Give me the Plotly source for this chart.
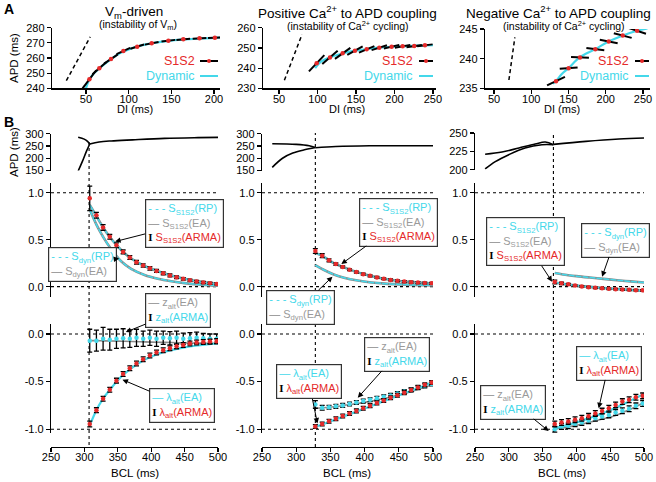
import plotly.graph_objects as go

W, H = 656, 482
CY = '#44d8ea'
RD = '#e52a2a'
GT = '#9a9a9a'
GL = '#8a8a8a'
FONT = 'Liberation Sans, Arial, Helvetica, sans-serif'

# ---------------- Panel A data (DI vs APD) ----------------
a1_dyn_di = [50, 52, 54, 58, 62, 66, 72, 80, 90, 100, 115, 130, 150, 170, 190, 210]
a1_dyn_apd = [240, 243.2, 245.9, 249, 251.3, 253.4, 256.2, 259.5, 263.2, 265.7, 268.3, 270, 271.5, 272.4, 273, 273.5]
a1_s1s2_di = [54, 65.6, 79.3, 93.8, 110, 127, 146.5, 164, 183, 201]
a1_s1s2_apd = [245.9, 253.2, 259.3, 264.6, 267.5, 269.7, 271.4, 272.3, 273, 273.4]
a1_s1s2_slope = [0.75, 0.5, 0.38, 0.26, 0.17, 0.11, 0.07, 0.045, 0.03, 0.02]
a1_diag_di = [27, 55]
a1_diag_apd = [245, 274]

a2_dyn_di = [97, 105, 116, 130, 145, 160, 180, 200, 225, 250]
a2_dyn_apd = [240, 243.3, 245.3, 247, 248.4, 249.2, 250.1, 250.6, 251, 251.4]
a2_s1s2_di = [98.9, 116.2, 132.7, 148.7, 163.9, 180.3, 196.3, 210.6, 225.7, 239.6]
a2_s1s2_apd = [242.4, 245.3, 247.3, 248.6, 249.3, 250.1, 250.6, 250.8, 250.9, 251.3]
a2_s1s2_slope = [0.4, 0.33, 0.27, 0.21, 0.16, 0.12, 0.09, 0.07, 0.055, 0.045]
a2_diag_di = [57, 80]
a2_diag_apd = [234, 256.7]

a3_dyn_di = [129, 133, 141, 150, 165, 186, 204, 223, 242, 256]
a3_dyn_apd = [235.8, 236.2, 237.4, 238.4, 240.2, 241.6, 242.9, 243.9, 244.7, 245.1]
a3_s1s2_di = [133.2, 150.2, 165.4, 186, 204, 222.8, 242]
a3_s1s2_apd = [236.2, 238.4, 240.2, 241.6, 242.9, 243.9, 244.7]
a3_s1s2_slope = [0.06, 0.01, -0.005, -0.015, -0.025, -0.033, -0.042]
a3_diag_di = [70, 78]
a3_diag_apd = [236.4, 243.6]

# ---------------- Panel B data (BCL) ----------------
b1_hi_bcl = [290.7, 299.7, 304.7, 308]
b1_hi_apd = [285.6, 278, 269, 258]
b1_lo_bcl = [290.7, 297, 303, 308]
b1_lo_apd = [148, 187, 228, 258]
b1_bcl = [308, 322, 340, 372, 420, 470, 500]
b1_apd = [258, 266, 270.5, 275, 281, 284, 285]

b2_hi_bcl = [265, 300, 319, 328]
b2_hi_apd = [259, 256.5, 251, 244]
b2_lo_bcl = [265, 280, 295, 312, 328]
b2_lo_apd = [163, 200, 221, 234.5, 244]
b2_bcl = [328, 358, 407, 450, 500]
b2_apd = [243, 248, 251, 251, 251]

b3_hi_bcl = [265, 290, 315, 339, 354, 366]
b3_hi_apd = [221, 224, 229.6, 235, 237.7, 234]
b3_lo_bcl = [265, 280, 300, 324, 349, 366]
b3_lo_apd = [201, 211, 220.5, 229.6, 234, 234]
b3_bcl = [366, 414, 463, 500]
b3_apd = [234.5, 238.6, 241.8, 243.2]

c1_bcl = [308, 318, 328, 338, 348, 358, 368, 378, 388, 398, 408, 418, 428, 438, 448, 458, 468, 478, 488, 498]
c1_s_arma = [0.94, 0.76, 0.63, 0.53, 0.44, 0.37, 0.31, 0.26, 0.225, 0.195, 0.167, 0.142, 0.12, 0.10, 0.083, 0.068, 0.055, 0.045, 0.036, 0.029]
c1_s_err = [0.13, 0.03, 0.03, 0.025, 0.025, 0.02, 0.02, 0.02, 0.018, 0.018, 0.016, 0.015, 0.015, 0.014, 0.013, 0.012, 0.012, 0.012, 0.011, 0.011]
c1_lam_arma = [-0.945, -0.80, -0.68, -0.585, -0.49, -0.42, -0.36, -0.31, -0.265, -0.225, -0.195, -0.17, -0.15, -0.13, -0.115, -0.10, -0.09, -0.085, -0.08, -0.075]
c1_lam_err = [0.03] + [0.025] * 19
c1_z_arma = [-0.07, -0.07, -0.05, -0.06, -0.05, -0.045, -0.05, -0.04, -0.05, -0.04, -0.05, -0.04, -0.045, -0.04, -0.05, -0.045, -0.04, -0.045, -0.05, -0.05]
c1_z_err = [0.12, 0.11, 0.12, 0.11, 0.1, 0.1, 0.09, 0.09, 0.08, 0.08, 0.08, 0.07, 0.07, 0.07, 0.06, 0.06, 0.06, 0.05, 0.05, 0.05]
c1_fit_bcl = [308, 318, 328, 340, 355, 370, 390, 410, 430, 450, 470, 490, 500]
c1_s_s1s2_fit = [0.87, 0.75, 0.63, 0.51, 0.39, 0.30, 0.22, 0.165, 0.12, 0.084, 0.056, 0.036, 0.029]
c1_s_dyn_fit = [0.82, 0.66, 0.53, 0.40, 0.27, 0.19, 0.125, 0.085, 0.058, 0.038, 0.024, 0.014, 0.011]
c1_lam_fit = [-0.96, -0.80, -0.68, -0.57, -0.45, -0.36, -0.27, -0.21, -0.17, -0.14, -0.12, -0.105, -0.10]
c1_z_fit = [-0.07, -0.07, -0.072, -0.074, -0.076, -0.079, -0.083, -0.087, -0.09, -0.093, -0.096, -0.099, -0.10]

c2_bcl = [328, 338, 348, 358, 368, 378, 388, 398, 408, 418, 428, 438, 448, 458, 468, 478, 488, 498]
c2_s_arma = [0.38, 0.33, 0.28, 0.24, 0.21, 0.18, 0.155, 0.133, 0.115, 0.098, 0.084, 0.072, 0.062, 0.054, 0.048, 0.043, 0.039, 0.036]
c2_s_err = [0.025, 0.02, 0.015, 0.012] + [0.01] * 14
c2_lam_arma = [-0.972, -0.945, -0.917, -0.89, -0.862, -0.835, -0.808, -0.78, -0.753, -0.725, -0.698, -0.67, -0.643, -0.616, -0.588, -0.561, -0.534, -0.51]
c2_lam_err = [0.02] * 18
c2_z_arma = [-0.74, -0.775, -0.77, -0.76, -0.75, -0.735, -0.72, -0.705, -0.69, -0.675, -0.66, -0.645, -0.625, -0.605, -0.585, -0.565, -0.545, -0.525]
c2_z_err = [0.04, 0.025] + [0.02] * 16
c2_fit_bcl = [328, 340, 355, 370, 390, 410, 430, 450, 470, 490, 500]
c2_s_s1s2_fit = [0.36, 0.32, 0.25, 0.205, 0.152, 0.113, 0.082, 0.061, 0.048, 0.039, 0.036]
c2_s_dyn_fit = [0.23, 0.18, 0.13, 0.095, 0.065, 0.045, 0.032, 0.024, 0.018, 0.015, 0.014]
c2_lam_fit = [-0.975, -0.945, -0.905, -0.865, -0.81, -0.755, -0.70, -0.645, -0.59, -0.535, -0.505]
c2_z_fit = [-0.78, -0.775, -0.765, -0.75, -0.73, -0.705, -0.675, -0.64, -0.60, -0.555, -0.53]

c3_bcl = [368, 378, 388, 398, 408, 418, 428, 438, 448, 458, 468, 478, 488, 498]
c3_s_arma = [0.05, 0.035, 0.025, 0.012, 0.003, -0.005, -0.012, -0.018, -0.023, -0.027, -0.031, -0.034, -0.037, -0.039]
c3_s_err = [0.02, 0.012, 0.01] + [0.008] * 11
c3_lam_arma = [-0.945, -0.93, -0.92, -0.90, -0.885, -0.865, -0.835, -0.81, -0.78, -0.745, -0.71, -0.69, -0.665, -0.65]
c3_lam_err = [0.03] * 14
c3_z_arma = [-1.0, -0.972, -0.965, -0.944, -0.93, -0.91, -0.885, -0.867, -0.85, -0.825, -0.807, -0.786, -0.755, -0.73]
c3_z_err = [0.03] * 14
c3_fit_bcl = [368, 380, 400, 420, 440, 460, 480, 500]
c3_s_s1s2_fit = [0.045, 0.03, 0.012, -0.002, -0.015, -0.025, -0.035, -0.045]
c3_s_dyn_fit = [0.145, 0.13, 0.112, 0.097, 0.083, 0.069, 0.056, 0.045]
c3_lam_fit = [-0.99, -0.97, -0.93, -0.88, -0.83, -0.77, -0.70, -0.63]
c3_z_fit = [-1.0, -0.985, -0.96, -0.925, -0.89, -0.85, -0.79, -0.72]

bif_bcl = [307, 328, 366]

# ---------------- geometry (pixels) ----------------
def fx(p):
    return p / W


def fy(p):
    return 1 - p / H


A_xdom = [(52, 220), (263, 436), (485, 650)]
A_xrng = [(10.2, 207), (29.2, 254), (37.9, 259.4)]
A_ydom = [(27.7, 88.3), (27.7, 88.3), (29, 88.3)]
A_yrng = [(240, 280), (230, 260), (235, 245)]
A_xticks = [[50, 100, 150, 200], [50, 100, 150, 200, 250], [50, 100, 150, 200, 250]]
A_yticks = [[240, 250, 260, 270, 280], [230, 240, 250, 260], [235, 240, 245]]

B_xdom = [(51, 218), (262, 433), (475, 644)]
B_xrng = (250, 500)
APD_ydom = [(133.7, 170.5), (133.7, 170.5), (133, 169.7)]
APD_yrng = [(150, 300), (150, 300), (200, 250)]
APD_ticks = [[150, 200, 250, 300], [150, 200, 250, 300], [200, 225, 250]]
S_ydom = (183, 297)
S_yrng = (-0.11, 1.103)
L_ydom = (324, 433)
L_yrng = (-1.04, 0.105)
L_xpos = 447

fig = go.Figure()


def add(tr, n):
    tr.update(xaxis='x' if n == 1 else 'x%d' % n, yaxis='y' if n == 1 else 'y%d' % n,
              showlegend=False, hoverinfo='skip')
    fig.add_trace(tr)


def segs(xs, ys, sl, h):
    X, Y = [], []
    for x, y, s in zip(xs, ys, sl):
        X += [x - h, x + h, None]
        Y += [y - s * h, y + s * h, None]
    return X, Y


A_sets = [
    (a1_dyn_di, a1_dyn_apd, a1_s1s2_di, a1_s1s2_apd, a1_s1s2_slope, a1_diag_di, a1_diag_apd, 8),
    (a2_dyn_di, a2_dyn_apd, a2_s1s2_di, a2_s1s2_apd, a2_s1s2_slope, a2_diag_di, a2_diag_apd, 10),
    (a3_dyn_di, a3_dyn_apd, a3_s1s2_di, a3_s1s2_apd, a3_s1s2_slope, a3_diag_di, a3_diag_apd, 12),
]
for i, (ddi, dapd, sdi, sapd, ssl, gdi, gapd, h) in enumerate(A_sets):
    n = i + 1
    add(go.Scatter(x=gdi, y=gapd, mode='lines', line=dict(color='black', width=1.5, dash='4px,3px')), n)
    add(go.Scatter(x=ddi, y=dapd, mode='lines', line=dict(color=CY, width=2.2, shape='spline')), n)
    X, Y = segs(sdi, sapd, ssl, h)
    add(go.Scatter(x=X, y=Y, mode='lines', line=dict(color='black', width=2)), n)
    add(go.Scatter(x=sdi, y=sapd, mode='markers', marker=dict(color=RD, size=4.5)), n)

B_apd = [
    (b1_hi_bcl, b1_hi_apd, b1_lo_bcl, b1_lo_apd, b1_bcl, b1_apd),
    (b2_hi_bcl, b2_hi_apd, b2_lo_bcl, b2_lo_apd, b2_bcl, b2_apd),
    (b3_hi_bcl, b3_hi_apd, b3_lo_bcl, b3_lo_apd, b3_bcl, b3_apd),
]
for i, (hx, hy, lx, ly, x, y) in enumerate(B_apd):
    n = 4 + i
    for xx, yy in ((hx, hy), (lx, ly), (x, y)):
        add(go.Scatter(x=xx, y=yy, mode='lines', line=dict(color='black', width=1.6, shape='spline')), n)

S_sets = [
    (c1_fit_bcl, c1_s_s1s2_fit, c1_s_dyn_fit, c1_bcl, c1_s_arma, c1_s_err),
    (c2_fit_bcl, c2_s_s1s2_fit, c2_s_dyn_fit, c2_bcl, c2_s_arma, c2_s_err),
    (c3_fit_bcl, c3_s_s1s2_fit, c3_s_dyn_fit, c3_bcl, c3_s_arma, c3_s_err),
]
for i, (fb, fs, fd, b, s, e) in enumerate(S_sets):
    n = 7 + i
    for curve in (fd, fs):
        add(go.Scatter(x=fb, y=curve, mode='lines', line=dict(color=GL, width=2.6, shape='spline')), n)
        add(go.Scatter(x=fb, y=curve, mode='lines', line=dict(color=CY, width=1.5, shape='spline', dash='6px,1px')), n)
    add(go.Scatter(x=b, y=s, mode='markers', marker=dict(color=RD, size=4.5),
                   error_y=dict(type='data', array=e, color='black', thickness=1.3, width=2.5)), n)

L_sets = [
    (c1_fit_bcl, c1_lam_fit, c1_z_fit, c1_bcl, c1_lam_arma, c1_lam_err, c1_z_arma, c1_z_err),
    (c2_fit_bcl, c2_lam_fit, c2_z_fit, c2_bcl, c2_lam_arma, c2_lam_err, c2_z_arma, c2_z_err),
    (c3_fit_bcl, c3_lam_fit, c3_z_fit, c3_bcl, c3_lam_arma, c3_lam_err, c3_z_arma, c3_z_err),
]
for i, (fb, fl, fz, b, l, le, z, ze) in enumerate(L_sets):
    n = 10 + i
    add(go.Scatter(x=fb, y=fz, mode='lines', line=dict(color=GL, width=1.6, shape='spline')), n)
    add(go.Scatter(x=fb, y=fl, mode='lines', line=dict(color=CY, width=2.2, shape='spline')), n)
    add(go.Scatter(x=b, y=z, mode='markers', marker=dict(color=CY, size=4.5),
                   error_y=dict(type='data', array=ze, color='black', thickness=1.3, width=2.5)), n)
    add(go.Scatter(x=b, y=l, mode='markers', marker=dict(color=RD, size=4.5),
                   error_y=dict(type='data', array=le, color='black', thickness=1.3, width=2.5)), n)

common = dict(showline=True, linecolor='black', linewidth=1.2, ticks='outside', ticklen=4,
              tickwidth=1.2, tickcolor='black', showgrid=False, zeroline=False, automargin=False,
              tickfont=dict(size=11, family=FONT, color='black'), fixedrange=True)
xcommon = dict(common, ticklabelstandoff=-4)
lay = {}


def key(ax, n):
    return ax + ('axis' if n == 1 else 'axis%d' % n)


for i in range(3):
    n = i + 1
    lay[key('x', n)] = dict(xcommon, domain=[fx(A_xdom[i][0]), fx(A_xdom[i][1])], range=list(A_xrng[i]),
                            tickvals=A_xticks[i], anchor='y' if n == 1 else 'y%d' % n)
    lay[key('y', n)] = dict(common, domain=[fy(A_ydom[i][1]), fy(A_ydom[i][0])], range=list(A_yrng[i]),
                            tickvals=A_yticks[i], anchor='x' if n == 1 else 'x%d' % n)
    n = 4 + i
    lay[key('x', n)] = dict(visible=False, automargin=False, domain=[fx(B_xdom[i][0]), fx(B_xdom[i][1])],
                            range=list(B_xrng), anchor='y%d' % n, fixedrange=True)
    lay[key('y', n)] = dict(common, domain=[fy(APD_ydom[i][1]), fy(APD_ydom[i][0])], range=list(APD_yrng[i]),
                            tickvals=APD_ticks[i], anchor='x%d' % n)
    n = 7 + i
    lay[key('x', n)] = dict(visible=False, automargin=False, domain=[fx(B_xdom[i][0]), fx(B_xdom[i][1])],
                            range=list(B_xrng), anchor='y%d' % n, fixedrange=True)
    lay[key('y', n)] = dict(common, domain=[fy(S_ydom[1]), fy(S_ydom[0])], range=list(S_yrng),
                            tickvals=[0, 0.5, 1], ticktext=['0.0', '0.5', '1.0'], anchor='x%d' % n)
    n = 10 + i
    lay[key('x', n)] = dict(xcommon, domain=[fx(B_xdom[i][0]), fx(B_xdom[i][1])], range=list(B_xrng),
                            tickvals=[250, 300, 350, 400, 450, 500], anchor='free', position=fy(L_xpos))
    lay[key('y', n)] = dict(common, domain=[fy(L_ydom[1]), fy(L_ydom[0])], range=list(L_yrng),
                            tickvals=[-1, -0.5, 0], ticktext=['-1.0', '-0.5', '0.0'], anchor='x%d' % n)

shapes = []
for i in range(3):
    for n, vals in ((7 + i, (0, 1)), (10 + i, (0, -1))):
        for v in vals:
            shapes.append(dict(type='line', xref='x%d domain' % n, x0=0, x1=1, yref='y%d' % n, y0=v, y1=v,
                               line=dict(color='black', width=1.1, dash='dot'), layer='below'))
vtop = [141, 133, 133]
vbot = [445, 447, 432]
for i in range(3):
    shapes.append(dict(type='line', xref='x%d' % (10 + i), x0=bif_bcl[i], x1=bif_bcl[i], yref='paper',
                       y0=fy(vbot[i]), y1=fy(vtop[i]), line=dict(color='black', width=1.1, dash='dot'),
                       layer='below'))

leg_rows = [(61, 'S1S2', RD), (76, 'Dynamic', CY)]
leg_x = [(197, 200, 218), (415, 419, 433), (631, 635, 649)]
ann = []
for i in range(3):
    tx, l0, l1 = leg_x[i]
    for yy, txt, col in leg_rows:
        ann.append(dict(text=txt, x=fx(tx), y=fy(yy), xref='paper', yref='paper', xanchor='right',
                        yanchor='middle', showarrow=False, font=dict(size=12.5, color=col, family=FONT)))
        shapes.append(dict(type='line', xref='paper', yref='paper', x0=fx(l0), x1=fx(l1), y0=fy(yy), y1=fy(yy),
                           line=dict(color='black' if txt == 'S1S2' else CY, width=2)))
    cx = (l0 + l1) / 2
    shapes.append(dict(type='circle', xref='paper', yref='paper', x0=fx(cx - 2), x1=fx(cx + 2),
                       y0=fy(61 + 2), y1=fy(61 - 2), fillcolor=RD, line=dict(color=RD, width=0)))


def T(text, x, y, size=11, **kw):
    d = dict(text=text, x=fx(x), y=fy(y), xref='paper', yref='paper', showarrow=False,
             xanchor='center', yanchor='middle', font=dict(size=size, family=FONT, color='black'))
    d.update(kw)
    ann.append(d)


T('<b>A</b>', 9, 9, size=14)
T('<b>B</b>', 9, 122, size=14)
T('V<sub>m</sub>-driven', 134, 12, size=13.5)
T('(instability of V<sub>m</sub>)', 138, 25, size=10.5)
T('Positive Ca<sup>2+</sup> to APD coupling', 347, 12, size=13.5)
T('(instability of Ca<sup>2+</sup> cycling)', 348, 25, size=10.5)
T('Negative Ca<sup>2+</sup> to APD coupling', 558, 12, size=13.5)
T('(instability of Ca<sup>2+</sup> cycling)', 564, 25, size=10.5)
T('APD (ms)', 14, 58, size=11.5, textangle=-90)
T('APD (ms)', 14, 152, size=11.5, textangle=-90)
for cx in (135, 347, 562):
    T('DI (ms)', cx, 109, size=11)
    T('BCL (ms)', cx, 473, size=11.5)


def sp(col, t):
    return "<span style='color:%s'>%s</span>" % (col, t)


IB = "<span style='font-family:Liberation Serif;font-weight:bold;color:black'>I</span>"
DASH = sp(CY, '- - -')
SOL_G = sp(GL, '—')
SOL_C = sp(CY, '—')


def leg_S(sub):
    return (DASH + ' ' + sp(CY, 'S<sub>%s</sub>(RP)' % sub) + '<br>' +
            SOL_G + ' ' + sp(GT, 'S<sub>%s</sub>(EA)' % sub) +
            ('<br>' + IB + ' ' + sp(RD, 'S<sub>%s</sub>(ARMA)' % sub) if sub == 'S1S2' else ''))


LEG_Z = SOL_G + ' ' + sp(GT, 'z<sub>alt</sub>(EA)') + '<br>' + IB + ' ' + sp(CY, 'z<sub>alt</sub>(ARMA)')
LEG_L = SOL_C + ' ' + sp(CY, 'λ<sub>alt</sub>(EA)') + '<br>' + IB + ' ' + sp(RD, 'λ<sub>alt</sub>(ARMA)')


def bx_px(c, v):
    d = B_xdom[c]
    return d[0] + (v - B_xrng[0]) / (B_xrng[1] - B_xrng[0]) * (d[1] - d[0])


def by_px(dom, rng, v):
    top, bot = dom
    return bot - (v - rng[0]) / (rng[1] - rng[0]) * (bot - top)


def box(text, c, row, tip, center):
    if row == 'S':
        n = 7 + c
        ty = by_px(S_ydom, S_yrng, tip[1])
    else:
        n = 10 + c
        ty = by_px(L_ydom, L_yrng, tip[1])
    tx = bx_px(c, tip[0])
    ann.append(dict(text=text, x=tip[0], y=tip[1], xref='x%d' % n, yref='y%d' % n, showarrow=True,
                    ax=center[0] - tx, ay=center[1] - ty, axref='pixel', ayref='pixel',
                    xanchor='center', yanchor='middle',
                    arrowhead=2, arrowsize=1.1, arrowwidth=1, arrowcolor='black', align='left',
                    bordercolor='#333333', borderwidth=1.2, borderpad=2, bgcolor='white',
                    font=dict(size=11, family=FONT, color='black')))


box(leg_S('S1S2'), 0, 'S', (346, 0.48), (184, 224))
box(leg_S('dyn'), 0, 'S', (352, 0.30), (82, 264))
box(LEG_Z, 0, 'L', (362, 0.02), (178, 311))
box(LEG_L, 0, 'L', (357, -0.48), (182, 405))
box(leg_S('S1S2'), 1, 'S', (366, 0.24), (399, 222))
box(leg_S('dyn'), 1, 'S', (353, 0.106), (301, 307))
box(LEG_Z, 1, 'L', (390, -0.67), (397, 354))
box(LEG_L, 1, 'L', (331, -0.94), (309, 382))
box(leg_S('S1S2'), 2, 'S', (364, 0.053), (526, 242))
box(leg_S('dyn'), 2, 'S', (438, 0.106), (615, 240))
box(LEG_L, 2, 'L', (433, -0.78), (609, 363))
box(LEG_Z, 2, 'L', (359, -1.02), (513, 402))

fig.update_layout(template='none', width=W, height=H, autosize=False, margin=dict(l=0, r=0, t=0, b=0, pad=0),
                  paper_bgcolor='white', plot_bgcolor='rgba(0,0,0,0)', showlegend=False,
                  font=dict(family=FONT, size=11, color='black'),
                  shapes=shapes, annotations=ann, **lay)
fig.write_html('out.html', config={'displayModeBar': False, 'staticPlot': True},
               post_script="document.body.style.margin='0';document.body.style.overflow='hidden';")
